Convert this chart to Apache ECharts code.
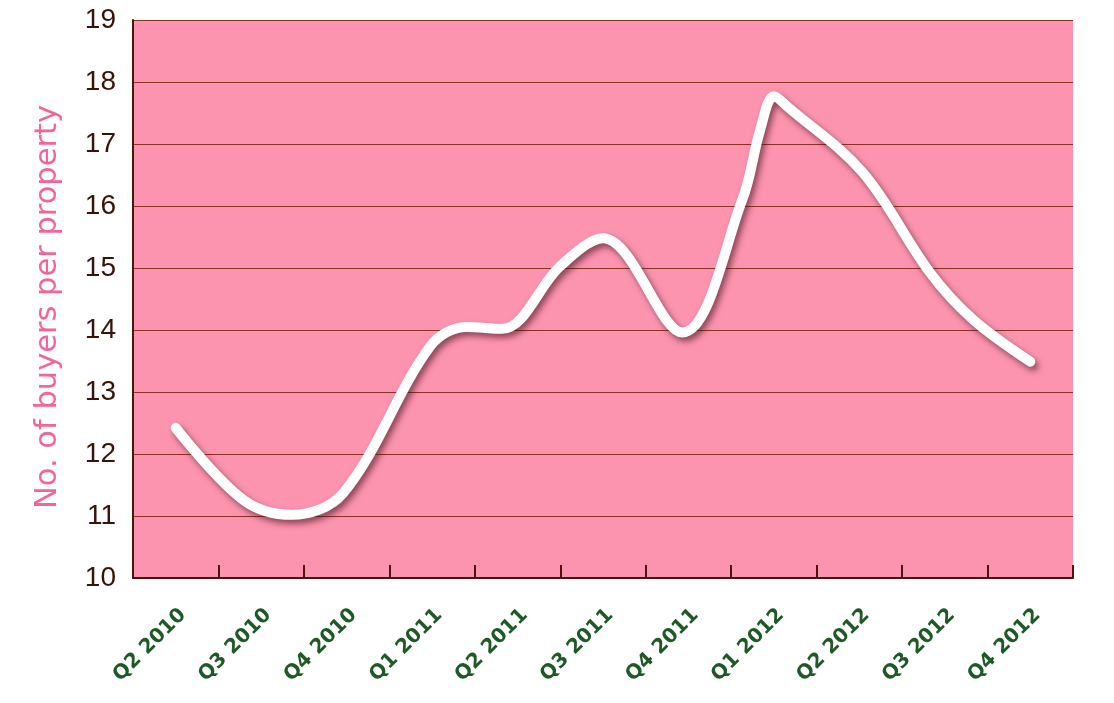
<!DOCTYPE html>
<html><head><meta charset="utf-8">
<script src="https://cdn.jsdelivr.net/npm/echarts@6/dist/echarts.min.js"></script>
<style>html,body{margin:0;padding:0;background:#fff}#c{width:1114px;height:703px}</style>
</head><body><div id="c"></div>
<script>
const categories = ['Q2 2010','Q3 2010','Q4 2010','Q1 2011','Q2 2011','Q3 2011','Q4 2011','Q1 2012','Q2 2012','Q3 2012','Q4 2012'];
// position along the time axis in quarters (0 = Q2 2010) and buyers per property
const positions = [0, 0.79, 1.36, 1.96, 2.98, 3.40, 3.82, 4.50, 5.00, 5.93, 6.63, 6.84, 7.00, 7.17, 8.04, 8.83, 9.33, 10.0];
const buyers    = [12.42, 11.26, 11.02, 11.37, 13.74, 14.05, 14.02, 15.03, 15.48, 13.96, 16.1, 17.23, 17.77, 17.59, 16.54, 14.92, 14.17, 13.49];
const yTicks = {min: 10, max: 19, interval: 1};

const chart = echarts.init(document.getElementById('c'));
chart.setOption({
  animation: false,
  grid: {left: 133, right: 41, top: 20, bottom: 125, show: true, backgroundColor: '#FC94AF', borderWidth: 0},
  xAxis: [{
    type: 'category', data: categories, boundaryGap: true,
    axisLine: {lineStyle: {color: '#4a160c', width: 2}},
    axisTick: {show: true, inside: true, length: 13, lineStyle: {color: '#4a160c', width: 2}},
    axisLabel: {rotate: 45, margin: 27, verticalAlign: 'top', color: '#1e5a26', fontSize: 20, fontWeight: 'bold', fontFamily: 'DejaVu Sans', interval: 0},
    splitLine: {show: false}
  }, {
    type: 'value', min: -0.5, max: 10.5, show: false
  }],
  yAxis: {
    type: 'value', min: yTicks.min, max: yTicks.max, interval: yTicks.interval,
    name: 'No. of buyers per property', nameLocation: 'middle', nameGap: 69,
    nameTextStyle: {color: '#F2649A', fontSize: 30.5, fontFamily: 'DejaVu Sans', padding: [0, 16, 0, 0]},
    axisLine: {show: true, onZero: false, lineStyle: {color: '#4a160c', width: 2}},
    axisTick: {show: false},
    axisLabel: {color: '#3a1208', fontSize: 28, fontFamily: 'Liberation Sans', margin: 17},
    splitLine: {lineStyle: {color: '#8a3222', width: 1}}
  },
  series: [{
    type: 'line', xAxisIndex: 1,
    data: positions.map((p, i) => [p, buyers[i]]),
    smooth: 0.35, showSymbol: false,
    lineStyle: {color: '#ffffff', width: 10, cap: 'round', join: 'round',
      shadowColor: 'rgba(70,15,30,0.6)', shadowBlur: 6, shadowOffsetX: 3, shadowOffsetY: 4}
  }]
});
</script></body></html>
